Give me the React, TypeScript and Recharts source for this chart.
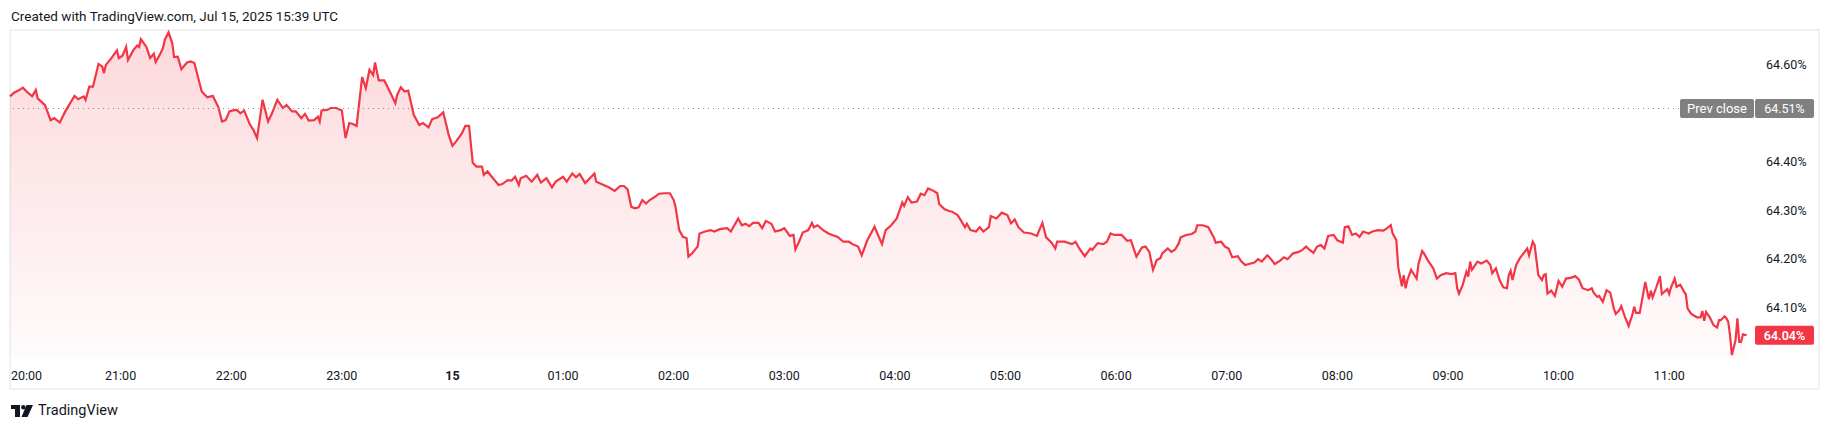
import React from 'react';
import { AreaChart, Area, XAxis, YAxis, ReferenceLine } from 'recharts';

// minutes after 20:00 (Jul 14) for each sample of the yield line
const minutes = [
  0, 2, 5, 7, 9, 12, 14, 15, 19, 22,
  24, 27, 30, 32, 35, 37, 40, 41, 43, 45,
  48, 50, 51, 52, 55, 58, 59, 61, 63, 64,
  67, 69, 70, 71, 74, 76, 78, 79, 81, 83,
  84, 86, 88, 89, 91, 93, 96, 98, 100, 104,
  107, 110, 113, 115, 117, 119, 121, 123, 125, 127,
  130, 132, 134, 137, 140, 142, 145, 148, 150, 153,
  155, 158, 160, 162, 165, 167, 168, 169, 172, 174,
  177, 180, 182, 184, 186, 188, 191, 193, 195, 197,
  198, 200, 203, 206, 209, 210, 212, 214, 216, 219,
  222, 224, 227, 229, 232, 235, 238, 240, 242, 245,
  247, 249, 251, 253, 256, 257, 259, 262, 265, 267,
  270, 272, 274, 276, 277, 280, 283, 286, 288, 291,
  294, 296, 300, 302, 305, 307, 309, 312, 314, 317,
  318, 322, 325, 328, 331, 333, 335, 337, 339, 341,
  343, 345, 347, 350, 352, 355, 358, 360, 361, 363,
  365, 367, 368, 370, 373, 374, 377, 380, 382, 385,
  389, 391, 395, 397, 399, 401, 403, 406, 408, 410,
  413, 415, 418, 420, 423, 425, 426, 428, 430, 433,
  435, 436, 438, 441, 444, 446, 449, 452, 455, 457,
  460, 462, 465, 469, 470, 473, 475, 478, 481, 484,
  485, 487, 489, 492, 494, 496, 498, 501, 503, 504,
  507, 509, 511, 514, 516, 518, 519, 521, 524, 526,
  528, 531, 532, 535, 538, 541, 543, 545, 547, 550,
  554, 557, 560, 562, 565, 567, 568, 572, 576, 578,
  580, 583, 586, 587, 590, 593, 595, 597, 599, 603,
  606, 608, 611, 614, 616, 618, 620, 622, 624, 625,
  628, 630, 632, 634, 635, 638, 641, 643, 644, 647,
  650, 653, 654, 657, 659, 661, 663, 666, 668, 670,
  673, 675, 677, 679, 682, 684, 686, 689, 691, 693,
  696, 699, 701, 703, 705, 707, 709, 711, 713, 715,
  718, 720, 723, 724, 726, 728, 730, 732, 734, 737,
  739, 742, 745, 747, 749, 750, 752, 753, 755, 756,
  757, 758, 760, 761, 763, 764, 766, 767, 769, 772,
  774, 776, 779, 782, 784, 785, 786, 788, 790, 791,
  792, 793, 796, 798, 801, 803, 804, 806, 808, 810,
  812, 813, 814, 815, 817, 819, 821, 823, 824, 826,
  827, 829, 831, 832, 833, 834, 836, 838, 840, 842,
  844, 847, 849, 851, 853, 856, 858, 859, 861, 862,
  864, 866, 868, 870, 871, 873, 874, 876, 878, 880,
  881, 882, 884, 886, 887, 889, 890, 891, 893, 895,
  896, 899, 900, 901, 903, 904, 906, 908, 909, 910,
  912, 915, 917, 918, 919, 920, 922, 924, 926, 927,
  928, 930, 931, 932, 933, 934, 936, 937, 938, 939,
  940, 942,
];

// yield in %, one per sample above
const yields = [
  64.535, 64.542, 64.548, 64.553, 64.545, 64.535, 64.548, 64.531, 64.517, 64.486,
  64.490, 64.481, 64.504, 64.517, 64.536, 64.529, 64.535, 64.528, 64.555, 64.555,
  64.602, 64.597, 64.583, 64.600, 64.614, 64.630, 64.614, 64.619, 64.637, 64.610,
  64.631, 64.640, 64.637, 64.653, 64.637, 64.614, 64.623, 64.606, 64.619, 64.635,
  64.652, 64.667, 64.645, 64.616, 64.617, 64.591, 64.605, 64.607, 64.604, 64.545,
  64.533, 64.536, 64.513, 64.483, 64.486, 64.504, 64.506, 64.507, 64.500, 64.506,
  64.478, 64.466, 64.449, 64.528, 64.483, 64.499, 64.528, 64.511, 64.517, 64.504,
  64.504, 64.490, 64.499, 64.485, 64.486, 64.493, 64.483, 64.506, 64.507, 64.511,
  64.511, 64.506, 64.449, 64.480, 64.478, 64.474, 64.575, 64.552, 64.590, 64.579,
  64.605, 64.568, 64.568, 64.545, 64.521, 64.538, 64.554, 64.545, 64.547, 64.497,
  64.476, 64.480, 64.471, 64.488, 64.492, 64.502, 64.455, 64.433, 64.442, 64.458,
  64.474, 64.474, 64.398, 64.390, 64.390, 64.373, 64.380, 64.366, 64.352, 64.354,
  64.362, 64.361, 64.369, 64.352, 64.366, 64.371, 64.359, 64.373, 64.357, 64.366,
  64.347, 64.359, 64.369, 64.359, 64.376, 64.368, 64.375, 64.356, 64.364, 64.376,
  64.359, 64.352, 64.347, 64.340, 64.350, 64.350, 64.343, 64.307, 64.304, 64.306,
  64.321, 64.314, 64.321, 64.328, 64.334, 64.335, 64.335, 64.321, 64.307, 64.259,
  64.245, 64.242, 64.204, 64.211, 64.225, 64.252, 64.256, 64.259, 64.256, 64.261,
  64.263, 64.256, 64.283, 64.269, 64.272, 64.267, 64.274, 64.274, 64.263, 64.278,
  64.272, 64.256, 64.259, 64.263, 64.247, 64.249, 64.219, 64.235, 64.254, 64.259,
  64.274, 64.265, 64.269, 64.259, 64.252, 64.249, 64.245, 64.235, 64.235, 64.230,
  64.225, 64.207, 64.238, 64.266, 64.256, 64.230, 64.259, 64.269, 64.283, 64.316,
  64.309, 64.327, 64.316, 64.318, 64.334, 64.331, 64.345, 64.340, 64.335, 64.313,
  64.302, 64.299, 64.297, 64.290, 64.278, 64.265, 64.272, 64.259, 64.256, 64.265,
  64.256, 64.265, 64.288, 64.283, 64.295, 64.290, 64.273, 64.281, 64.265, 64.254,
  64.252, 64.247, 64.274, 64.244, 64.233, 64.221, 64.235, 64.235, 64.230, 64.235,
  64.221, 64.205, 64.221, 64.218, 64.232, 64.230, 64.235, 64.252, 64.249, 64.249,
  64.237, 64.238, 64.204, 64.223, 64.225, 64.214, 64.177, 64.197, 64.201, 64.211,
  64.221, 64.214, 64.219, 64.232, 64.244, 64.249, 64.251, 64.256, 64.269, 64.269,
  64.265, 64.244, 64.233, 64.235, 64.225, 64.221, 64.203, 64.205, 64.194, 64.187,
  64.190, 64.192, 64.199, 64.194, 64.207, 64.199, 64.189, 64.196, 64.203, 64.199,
  64.211, 64.214, 64.218, 64.225, 64.218, 64.212, 64.225, 64.228, 64.221, 64.247,
  64.249, 64.238, 64.233, 64.265, 64.267, 64.249, 64.252, 64.245, 64.256, 64.252,
  64.256, 64.259, 64.258, 64.263, 64.269, 64.252, 64.238, 64.183, 64.143, 64.166,
  64.139, 64.156, 64.177, 64.171, 64.159, 64.189, 64.216, 64.211, 64.197, 64.180,
  64.159, 64.166, 64.170, 64.168, 64.170, 64.139, 64.128, 64.146, 64.173, 64.163,
  64.194, 64.177, 64.194, 64.190, 64.196, 64.187, 64.170, 64.180, 64.156, 64.141,
  64.139, 64.166, 64.175, 64.156, 64.187, 64.201, 64.211, 64.221, 64.207, 64.235,
  64.228, 64.166, 64.156, 64.166, 64.168, 64.128, 64.134, 64.123, 64.154, 64.142,
  64.159, 64.161, 64.164, 64.157, 64.139, 64.135, 64.139, 64.130, 64.121, 64.123,
  64.111, 64.135, 64.130, 64.097, 64.086, 64.094, 64.102, 64.080, 64.061, 64.084,
  64.101, 64.088, 64.088, 64.130, 64.152, 64.116, 64.134, 64.120, 64.141, 64.164,
  64.127, 64.137, 64.127, 64.141, 64.159, 64.142, 64.146, 64.132, 64.127, 64.097,
  64.086, 64.079, 64.079, 64.092, 64.072, 64.090, 64.079, 64.063, 64.058, 64.073,
  64.073, 64.081, 64.077, 64.070, 64.042, 64.001, 64.032, 64.077, 64.028, 64.028,
  64.044, 64.042,
];

const hourTicks = [0, 60, 120, 180, 240, 300, 360, 420, 480, 540, 600, 660, 720, 780, 840, 900];
const hourLabels = ['20:00', '21:00', '22:00', '23:00', '15', '01:00', '02:00', '03:00', '04:00', '05:00', '06:00', '07:00', '08:00', '09:00', '10:00', '11:00'];
const priceTicks = [64.1, 64.2, 64.3, 64.4, 64.5, 64.6];
const prevClose = 64.51;

const data = minutes.map((t, i) => ({ t, v: yields[i] }));
const lastValue = yields[yields.length - 1];
// tags are drawn as extra axis ticks, after the plain ones so they sit on top
const axisTicks = [...priceTicks, prevClose, lastValue];

const FONT = "'Trebuchet MS', Roboto, 'Noto Sans', sans-serif";
const RED = '#f23645';
const TEXT = '#131722';

const TimeTick = (props: any) => {
  const { x, y, payload } = props;
  const idx = hourTicks.indexOf(payload.value);
  const label = hourLabels[idx];
  const first = idx === 0;
  return (
    <text
      x={first ? x + 1 : x}
      y={y}
      textAnchor={first ? 'start' : 'middle'}
      dominantBaseline="central"
      fontSize={12.5}
      fontFamily={FONT}
      fontWeight={label === '15' ? 700 : 400}
      fill={TEXT}
    >
      {label}
    </text>
  );
};

const PriceTick = (props: any) => {
  const { x, y, payload } = props;
  const value: number = payload.value;
  const text = `${value.toFixed(2)}%`;
  const boxX = x - 11;
  if (value === prevClose) {
    return (
      <g>
        <rect x={boxX - 75} y={y - 9.5} width={74} height={19} rx={2} fill="#808080" />
        <text x={boxX - 38} y={y} textAnchor="middle" dominantBaseline="central" fontSize={13} fontFamily={FONT} fill="#fff">
          Prev close
        </text>
        <rect x={boxX} y={y - 9.5} width={59} height={19} rx={2} fill="#808080" />
        <text x={boxX + 29.5} y={y} textAnchor="middle" dominantBaseline="central" fontSize={12.5} fontFamily={FONT} fill="#fff">
          {text}
        </text>
      </g>
    );
  }
  if (value === lastValue) {
    return (
      <g>
        <rect x={boxX} y={y - 9.5} width={59} height={19} rx={2} fill={RED} />
        <text x={boxX + 29.5} y={y} textAnchor="middle" dominantBaseline="central" fontSize={12.5} fontWeight={600} fontFamily={FONT} fill="#fff">
          {text}
        </text>
      </g>
    );
  }
  return (
    <text x={x} y={y} textAnchor="start" dominantBaseline="central" fontSize={12.5} fontFamily={FONT} fill={TEXT}>
      {text}
    </text>
  );
};

const TvLogo = () => (
  <svg width={22} height={12} viewBox="0 0 22 12" style={{ display: 'block' }}>
    <rect x={0} y={0} width={9} height={4} fill={TEXT} />
    <rect x={4} y={0} width={5} height={12} fill={TEXT} />
    <circle cx={12.3} cy={2.2} r={2.2} fill={TEXT} />
    <polygon points="15.5,0 22,0 16.5,12 10.5,12" fill={TEXT} />
  </svg>
);

export default function App() {
  return (
    <div style={{ position: 'relative', width: 1831, height: 430, background: '#fff', fontFamily: FONT, overflow: 'hidden' }}>
      <style>{'body{margin:0}'}</style>
      <div style={{ position: 'absolute', left: 11, top: 8, fontSize: 13.5, color: TEXT, lineHeight: '17px', whiteSpace: 'nowrap' }}>
        Created with TradingView.com, Jul 15, 2025 15:39 UTC
      </div>
      <div style={{ position: 'absolute', left: 9, top: 29, width: 1807, height: 357, border: '2px solid #f0f1f3' }} />
      <div style={{ position: 'absolute', left: 0, top: 0 }}>
        <AreaChart width={1831} height={430} data={data} margin={{ top: 30, right: 0, bottom: 0, left: 10 }}>
          <defs>
            <linearGradient id="tvFill" x1="0" y1="0" x2="0" y2="1">
              <stop offset="0%" stopColor={RED} stopOpacity={0.32} />
              <stop offset="100%" stopColor={RED} stopOpacity={0.03} />
            </linearGradient>
          </defs>
          <XAxis
            dataKey="t"
            type="number"
            domain={[0, 946]}
            ticks={hourTicks}
            interval={0}
            height={72}
            axisLine={false}
            tickLine={false}
            tickSize={0}
            tickMargin={17}
            tick={<TimeTick />}
          />
          <YAxis
            orientation="right"
            width={77}
            domain={[63.995, 64.672]}
            ticks={axisTicks}
            interval={0}
            axisLine={false}
            tickLine={false}
            tickSize={0}
            tickMargin={12}
            tick={<PriceTick />}
          />
          <ReferenceLine y={prevClose} stroke="#8a8d96" strokeDasharray="1 4" />
          <Area
            type="linear"
            dataKey="v"
            stroke={RED}
            strokeWidth={2.2}
            fill="url(#tvFill)"
            dot={false}
            activeDot={false}
            isAnimationActive={false}
          />
        </AreaChart>
      </div>
      <div style={{ position: 'absolute', left: 11, top: 402, display: 'flex', alignItems: 'center', gap: 5, fontSize: 14.5, color: TEXT }}>
        <TvLogo />
        <span>TradingView</span>
      </div>
    </div>
  );
}
